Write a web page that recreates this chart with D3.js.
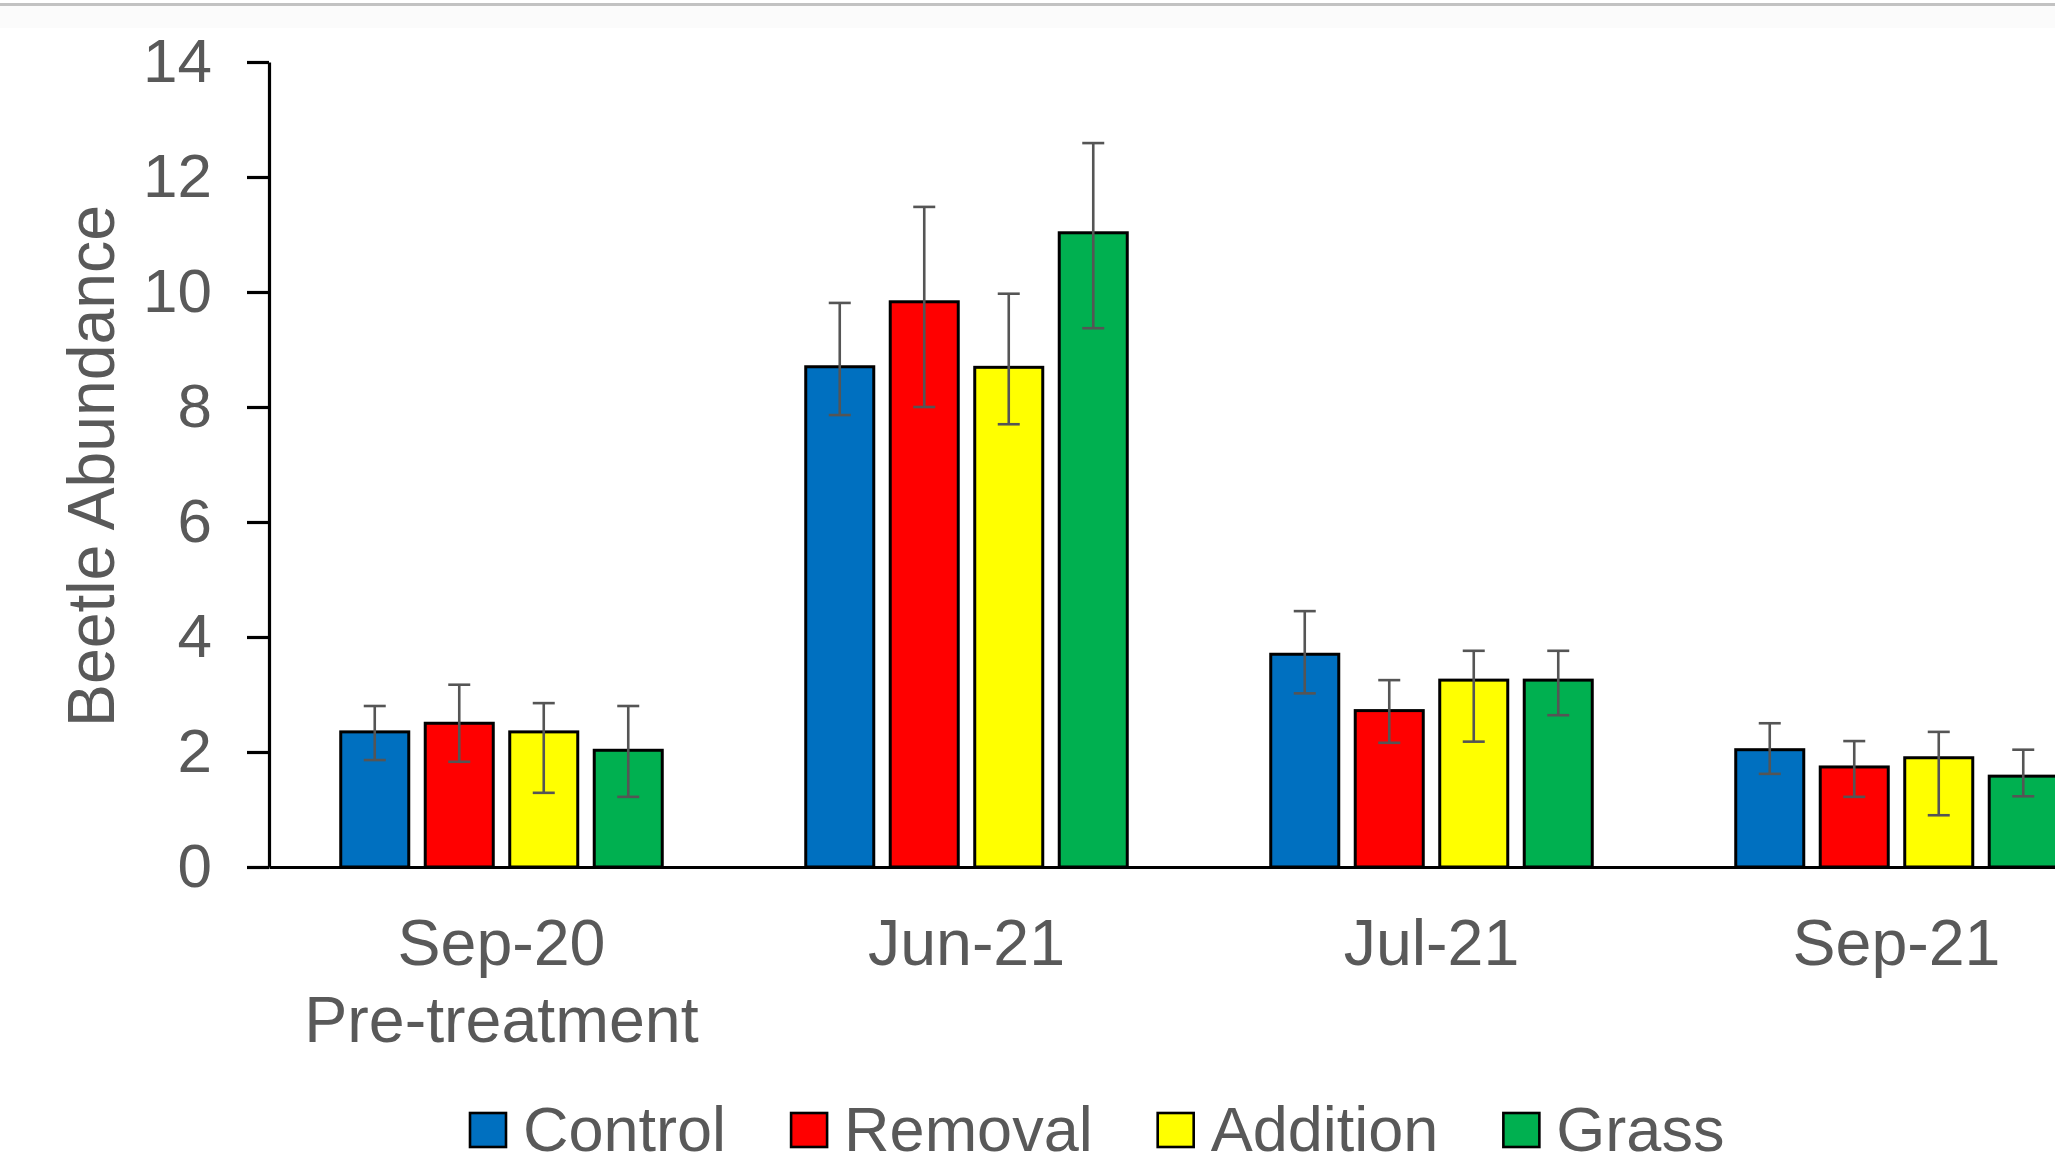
<!DOCTYPE html>
<html>
<head>
<meta charset="utf-8">
<script src="https://cdn.jsdelivr.net/npm/d3@7"></script>
<style>
  html, body { margin: 0; padding: 0; background: #ffffff; overflow: hidden; }
  svg { display: block; }
  text { font-family: "Liberation Sans", Arial, sans-serif; fill: #595959; }
</style>
</head>
<body>
<svg id="chart" width="2055" height="1168"></svg>
<script>
// Sampling dates and treatments
const categories = ["Sep-20", "Jun-21", "Jul-21", "Sep-21"];
const subLabels = ["Pre-treatment", "", "", ""];
const series = ["Control", "Removal", "Addition", "Grass"];
const colors = ["#0070C0", "#FF0000", "#FFFF00", "#00B050"];

// Mean beetle abundance per treatment, one value per date
const control  = [2.35, 8.70, 3.70, 2.04];
const removal  = [2.50, 9.83, 2.72, 1.74];
const addition = [2.35, 8.69, 3.25, 1.90];
const grass    = [2.03, 11.03, 3.25, 1.58];

// Error bar ends (upper and lower) per treatment
const controlHi  = [2.80, 9.81, 4.45, 2.50];
const controlLo  = [1.86, 7.86, 3.02, 1.62];
const removalHi  = [3.17, 11.48, 3.25, 2.19];
const removalLo  = [1.83, 8.00, 2.16, 1.22];
const additionHi = [2.85, 9.97, 3.76, 2.35];
const additionLo = [1.29, 7.70, 2.18, 0.90];
const grassHi    = [2.80, 12.59, 3.76, 2.04];
const grassLo    = [1.22, 9.37, 2.64, 1.23];

const yTicks = [0, 2, 4, 6, 8, 10, 12, 14];
const yTitle = "Beetle Abundance";

const means = [control, removal, addition, grass];
const highs = [controlHi, removalHi, additionHi, grassHi];
const lows  = [controlLo, removalLo, additionLo, grassLo];

const svg = d3.select("#chart");

// Thin frame line across the top
svg.append("rect").attr("x", 0).attr("y", 6).attr("width", 2055).attr("height", 22).attr("fill", "#fbfbfb");
svg.append("rect").attr("x", 0).attr("y", 3).attr("width", 2055).attr("height", 3).attr("fill", "#c2c2c2");

const axisX = 269, bandW = 465, groupW = 338;
const x0 = d3.scaleBand().domain(categories).range([axisX, axisX + bandW * categories.length]);
const x1 = d3.scaleBand().domain(series).range([0, groupW]).paddingInner(0.195).paddingOuter(0.0975);
const y = d3.scaleLinear().domain([0, 14]).range([867, 62]);

const rows = [];
categories.forEach((c, ci) => {
  series.forEach((s, si) => {
    rows.push({ cat: c, ser: s, color: colors[si], v: means[si][ci], hi: highs[si][ci], lo: lows[si][ci] });
  });
});
const gx = c => x0(c) + (bandW - groupW) / 2;

// Bars
svg.append("g").selectAll("rect").data(rows).join("rect")
  .attr("x", d => gx(d.cat) + x1(d.ser))
  .attr("y", d => y(d.v))
  .attr("width", x1.bandwidth())
  .attr("height", d => y(0) - y(d.v))
  .attr("fill", d => d.color)
  .attr("stroke", "#000")
  .attr("stroke-width", 3);

// Error bars
const eb = svg.append("g").attr("stroke", "#555555").attr("stroke-width", 2.6);
const capW = 22;
rows.forEach(d => {
  const cx = gx(d.cat) + x1(d.ser) + x1.bandwidth() / 2;
  eb.append("line").attr("x1", cx).attr("x2", cx).attr("y1", y(d.hi)).attr("y2", y(d.lo));
  eb.append("line").attr("x1", cx - capW / 2).attr("x2", cx + capW / 2).attr("y1", y(d.hi)).attr("y2", y(d.hi));
  eb.append("line").attr("x1", cx - capW / 2).attr("x2", cx + capW / 2).attr("y1", y(d.lo)).attr("y2", y(d.lo));
});

// Y axis
const yAxis = svg.append("g").attr("transform", `translate(${axisX},0)`)
  .call(d3.axisLeft(y).tickValues(yTicks).tickSize(22).tickSizeOuter(0).tickPadding(35));
yAxis.select(".domain").attr("stroke", "#000").attr("stroke-width", 3.2);
yAxis.selectAll(".tick line").attr("stroke", "#000").attr("stroke-width", 3.2);
yAxis.selectAll(".tick text").attr("font-size", 62).attr("fill", "#595959")
  .attr("font-family", "'Liberation Sans', Arial, sans-serif");

// X axis baseline
const xAxis = svg.append("g").attr("transform", `translate(0,${y(0)})`)
  .call(d3.axisBottom(x0).tickSize(0).tickSizeOuter(0).tickFormat(""));
xAxis.select(".domain").attr("stroke", "#000").attr("stroke-width", 3.2);

// Category labels
const catG = svg.append("g");
categories.forEach((c, i) => {
  const cx = x0(c) + x0.bandwidth() / 2;
  const t = catG.append("text").attr("text-anchor", "middle").attr("font-size", 64.5);
  t.append("tspan").attr("x", cx).attr("y", 965).text(c);
  if (subLabels[i]) t.append("tspan").attr("x", cx).attr("y", 1042).text(subLabels[i]);
});

// Y axis title
svg.append("text")
  .attr("transform", "translate(114,466) rotate(-90)")
  .attr("text-anchor", "middle")
  .attr("font-size", 66)
  .attr("textLength", 522)
  .attr("lengthAdjust", "spacingAndGlyphs")
  .text(yTitle);

// Legend
const leg = svg.append("g");
let lx = 470;
series.forEach((s, i) => {
  leg.append("rect").attr("x", lx).attr("y", 1113).attr("width", 36).attr("height", 34)
    .attr("fill", colors[i]).attr("stroke", "#000").attr("stroke-width", 2.6);
  const t = leg.append("text").attr("x", lx + 53).attr("y", 1151).attr("font-size", 63).text(s);
  lx += 53 + t.node().getComputedTextLength() + 65;
});
</script>
</body>
</html>
